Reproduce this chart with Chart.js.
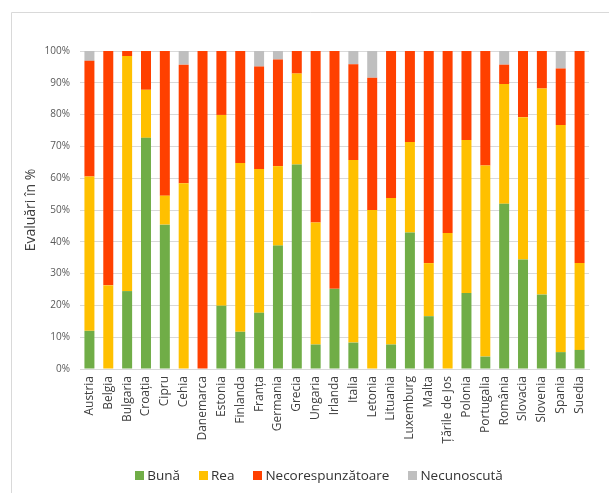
<!DOCTYPE html>
<html>
<head>
<meta charset="utf-8">
<script src="https://cdn.jsdelivr.net/npm/chart.js@4/dist/chart.umd.min.js"></script>
<style>
  html, body { margin: 0; padding: 0; background: #ffffff; }
  canvas { display: block; }
</style>
</head>
<body>
<canvas id="c" width="609" height="493"></canvas>
<script>
// Evaluări pe țară, în procente
const countries = ['Austria','Belgia','Bulgaria','Croația','Cipru','Cehia','Danemarca','Estonia','Finlanda','Franța','Germania','Grecia','Ungaria','Irlanda','Italia','Letonia','Lituania','Luxemburg','Malta','Țările de Jos','Polonia','Portugalia','România','Slovacia','Slovenia','Spania','Suedia'];
const buna   = [12, 0, 24.5, 72.7, 45.4, 0, 0, 19.9, 11.7, 17.7, 38.8, 64.3, 7.7, 25.2, 8.3, 0, 7.7, 42.9, 16.6, 0, 23.9, 3.9, 52, 34.4, 23.4, 5.3, 6];
const rea    = [48.5, 26.3, 73.9, 15.1, 9.1, 58.4, 0, 60, 53.1, 45.2, 25, 28.6, 38.4, 0, 57.4, 50, 46.1, 28.5, 16.7, 42.8, 48.1, 60.1, 37.6, 44.8, 64.8, 71.4, 27.3];
const necor  = [36.4, 73.7, 1.6, 12.2, 45.5, 37.3, 100, 20.1, 35.2, 32.2, 33.5, 7.1, 53.9, 74.8, 30.1, 41.6, 46.2, 28.6, 66.7, 57.2, 28, 36, 6.1, 20.8, 11.8, 17.8, 66.7];
const necun  = [3.1, 0, 0, 0, 0, 4.3, 0, 0, 0, 4.9, 2.7, 0, 0, 0, 4.2, 8.4, 0, 0, 0, 0, 0, 0, 4.3, 0, 0, 5.5, 0];
const seriesNames = ['Bună', 'Rea', 'Necorespunzătoare', 'Necunoscută'];
const seriesColors = ['#70AD47', '#FFC000', '#FF4000', '#BFBFBF'];

const FONT = "'Open Sans', 'DejaVu Sans', sans-serif";
const TICK_TEXT = '#595959';

// Frame around the chart and a custom legend below it
const framePlugin = {
  id: 'frame',
  beforeDraw(chart) {
    const ctx = chart.ctx;
    ctx.save();
    ctx.strokeStyle = '#D9D9D9';
    ctx.lineWidth = 1;
    ctx.beginPath();
    ctx.moveTo(11.5, 493);
    ctx.lineTo(11.5, 12.5);
    ctx.lineTo(609, 12.5);
    ctx.stroke();
    ctx.restore();
  },
  afterDraw(chart) {
    const ctx = chart.ctx;
    ctx.save();
    ctx.font = '13.5px ' + FONT;
    ctx.textBaseline = 'middle';
    const box = 9, gapText = 3, gapItem = 19, cy = 476;
    const widths = chart.data.datasets.map(d => ctx.measureText(d.label).width);
    const total = widths.reduce((s, w) => s + box + gapText + w, 0) + gapItem * (widths.length - 1);
    let x = 319 - total / 2;
    chart.data.datasets.forEach((d, i) => {
      ctx.fillStyle = d.backgroundColor;
      ctx.fillRect(Math.round(x), cy - 5, box, box);
      ctx.fillStyle = '#333333';
      ctx.fillText(d.label, x + box + gapText, cy);
      x += box + gapText + widths[i] + gapItem;
    });
    ctx.restore();
  }
};

const values = [buna, rea, necor, necun];
new Chart(document.getElementById('c'), {
  type: 'bar',
  data: {
    labels: countries,
    datasets: values.map((v, i) => ({
      label: seriesNames[i],
      data: v,
      backgroundColor: seriesColors[i],
      borderWidth: 0,
      barPercentage: 0.53,
      categoryPercentage: 1
    }))
  },
  options: {
    responsive: false,
    animation: false,
    devicePixelRatio: 1,
    layout: { padding: { top: 51, right: 20, left: 0, bottom: 0 } },
    plugins: {
      legend: { display: false },
      tooltip: { enabled: false }
    },
    scales: {
      x: {
        stacked: true,
        grid: { display: false, drawTicks: false },
        border: { color: '#D9D9D9' },
        ticks: {
          autoSkip: false,
          maxRotation: 90,
          minRotation: 90,
          padding: 7,
          color: '#404040',
          font: { family: FONT, size: 12 }
        },
        afterFit(axis) { axis.height = 124; }
      },
      y: {
        stacked: true,
        min: 0,
        max: 100,
        grid: { color: '#D9D9D9', drawTicks: false },
        border: { display: false },
        ticks: {
          stepSize: 10,
          padding: 10,
          color: TICK_TEXT,
          font: { family: FONT, size: 10 },
          callback: v => v + '%'
        },
        title: {
          display: true,
          text: 'Evaluări în %',
          color: '#404040',
          font: { family: FONT, size: 14 },
          padding: { top: 23, bottom: 0 }
        },
        afterFit(axis) { axis.width = 80; }
      }
    }
  },
  plugins: [framePlugin]
});
</script>
</body>
</html>
